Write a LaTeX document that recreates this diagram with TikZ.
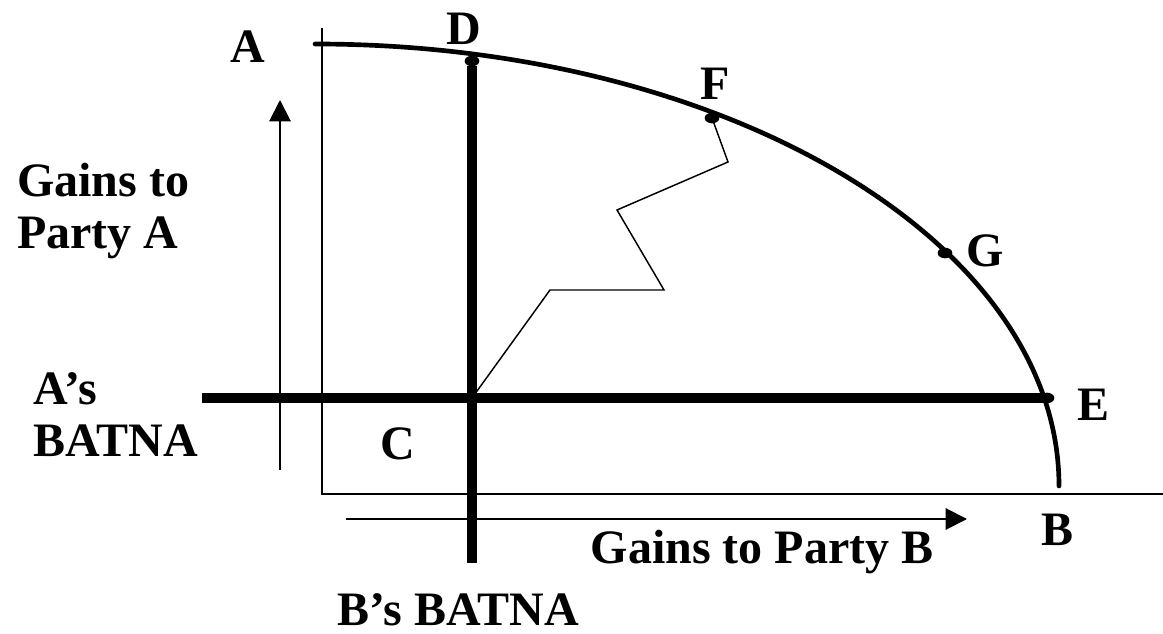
\documentclass[tikz,border=0pt]{standalone}
\usepackage{fontspec}
\setmainfont{Liberation Serif}
\usetikzlibrary{arrows.meta,shapes.geometric}
\begin{document}
\begin{tikzpicture}[x=0.75pt,y=-0.75pt,
  lbl/.style={font=\fontsize{36}{39}\selectfont\bfseries, inner sep=0pt},
  axisline/.style={line width=1.5pt},
  batna/.style={line width=8pt},
  frontier/.style={line width=3.5pt, line cap=round},
  zig/.style={line width=1.1pt, line join=miter},
  dirarrow/.style={line width=1.5pt, -{Triangle[length=16pt,width=16pt]}},
  dotmark/.style={ellipse, fill=black, inner sep=0pt, minimum width=11pt, minimum height=8pt}
]
\useasboundingbox (0,0) rectangle (1163,634);

% frontier curve
\coordinate (Astart) at (315,44);
\coordinate (Bend) at (1059,486);
\draw[frontier] (Astart) .. controls (726,44) and (1059,242) .. (Bend);

% axes
\coordinate (axtop) at (322,28);
\coordinate (origin) at (322,494);
\coordinate (axright) at (1163,494);
\draw[axisline] (axtop) -- (origin) -- (axright);

% direction arrows
\coordinate (upstart) at (280,470);
\coordinate (uptip) at (280,100);
\draw[dirarrow] (upstart) -- (uptip);
\coordinate (rstart) at (346,519);
\coordinate (rtip) at (967,519);
\draw[dirarrow] (rstart) -- (rtip);

% points on the frontier
\node[dotmark] (Dp) at (472,61) {};
\node[dotmark] (Fp) at (712,118) {};
\node[dotmark] (Gp) at (945,253) {};
\node[dotmark] (Ep) at (1047,398) {};

% BATNA lines
\coordinate (Cp) at (472,398);
\coordinate (bbot) at (472,563);
\coordinate (aleft) at (202,398);
\draw[batna] (Dp.center) ++(0,5) -- (bbot);
\draw[batna] (aleft) -- (Ep.center);

% negotiation path
\draw[zig] (Cp) -- (550,290) -- (664,290) -- (617,210) -- (728,162) -- (Fp.center);

% labels
\node[lbl, anchor=base] (la) at (248,63) {A};
\node[lbl, anchor=base] (ld) at (464,45) {D};
\node[lbl, anchor=base] (lf) at (715,100) {F};
\node[lbl, anchor=base] (lg) at (985,267) {G};
\node[lbl, anchor=base] (le) at (1093,420) {E};
\node[lbl, anchor=base] (lb) at (1057,545) {B};
\node[lbl, anchor=base] (lc) at (398,459) {C};
\node[lbl, anchor=base west, align=left] (gA) at (17,249) {Gains to\\Party A};
\node[lbl, anchor=base west, align=left] (bA) at (33,456) {A’s\\BATNA};
\node[lbl, anchor=base] (gB) at (762,563) {Gains to Party B};
\node[lbl, anchor=base, text depth=0pt] (bB) at (458,625) {B’s BATNA};
\end{tikzpicture}
\end{document}
